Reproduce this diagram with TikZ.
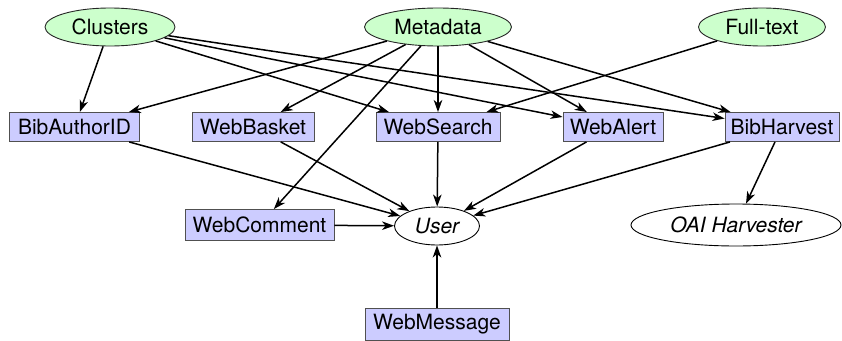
\documentclass[tikz,border=0pt]{standalone}
\usepackage{fontspec}
\setmainfont{TeX Gyre Heros}
\usetikzlibrary{shapes.geometric,arrows.meta}
\definecolor{boxfill}{HTML}{CCCCFF}
\definecolor{ellfill}{HTML}{CCFFCC}
\definecolor{boxdraw}{HTML}{505050}
\begin{document}
\begin{tikzpicture}[x=1pt,y=-1pt,
  font=\fontsize{21}{25}\selectfont,
  src/.style={ellipse,draw=black!85,fill=ellfill,line width=0.9pt,inner sep=0pt,minimum height=38pt},
  mod/.style={rectangle,draw=boxdraw,fill=boxfill,line width=0.9pt,inner sep=0pt,minimum height=29pt},
  sink/.style={ellipse,draw=black,fill=white,line width=0.9pt,inner sep=0pt,font=\fontsize{21}{25}\selectfont\itshape},
  arr/.style={line width=1.5pt,-{Stealth[length=12pt,width=8.5pt,inset=3.5pt]}}]
\useasboundingbox (0,0) rectangle (842,340);
\node[src,minimum width=130pt] (clusters) at (110,27) {Clusters};
\node[src,minimum width=147pt] (metadata) at (438,27) {Metadata};
\node[src,minimum width=127pt] (fulltext) at (762,27) {Full-text};
\node[mod,minimum width=130pt] (bibauthor) at (74.5,127) {BibAuthorID};
\node[mod,minimum width=122pt] (webbasket) at (253,127) {WebBasket};
\node[mod,minimum width=124pt] (websearch) at (438,127) {WebSearch};
\node[mod,minimum width=100pt] (webalert) at (613,127) {WebAlert};
\node[mod,minimum width=114pt] (bibharvest) at (782,127) {BibHarvest};
\node[mod,minimum width=149pt,minimum height=31pt] (webcomment) at (259.5,225) {WebComment};
\node[sink,minimum width=85pt,minimum height=38pt] (user) at (437,226) {User};
\node[sink,minimum width=210pt,minimum height=42pt] (oai) at (736,225) {OAI Harvester};
\node[mod,minimum width=144pt,minimum height=32pt] (webmessage) at (437,324) {WebMessage};
\draw[arr] (clusters) -- (bibauthor);
\draw[arr] (clusters) -- (websearch);
\draw[arr] (clusters) -- (webalert);
\draw[arr] (clusters) -- (bibharvest);
\draw[arr] (metadata) -- (bibauthor);
\draw[arr] (metadata) -- (webbasket);
\draw[arr] (metadata) -- (webcomment);
\draw[arr] (metadata) -- (websearch);
\draw[arr] (metadata) -- (webalert);
\draw[arr] (metadata) -- (bibharvest);
\draw[arr] (fulltext) -- (websearch);
\draw[arr] (bibauthor) -- (user);
\draw[arr] (webbasket) -- (user);
\draw[arr] (websearch) -- (user);
\draw[arr] (webalert) -- (user);
\draw[arr] (bibharvest) -- (user);
\draw[arr] (bibharvest) -- (oai);
\draw[arr] (webcomment) -- (user);
\draw[arr] (webmessage) -- (user);
\end{tikzpicture}
\end{document}
